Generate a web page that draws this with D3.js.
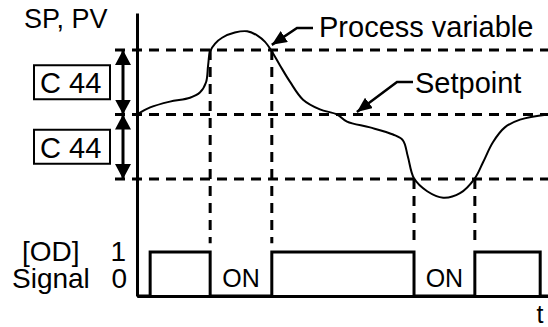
<!DOCTYPE html>
<html>
<head>
<meta charset="utf-8">
<script src="https://cdn.jsdelivr.net/npm/d3@7"></script>
<style>
  body { margin: 0; background: #fff; }
  svg { display: block; font-family: 'Liberation Sans', Arial, sans-serif; }
</style>
</head>
<body>
<div id="chart"></div>
<script>
// process variable, time in % of the plotted span, value in units of C44 band around setpoint
const pvTime = [0, 3.2, 8.0, 12.9, 15.3, 16.8, 17.3, 17.8, 19.0, 20.7, 23.8, 26.8, 29.4, 31.1, 32.6,
  34.8, 37.2, 40.4, 44.5, 48.7, 51.1, 56.7, 62.3, 64.7, 65.9, 67.4, 70.6, 74.5, 78.6, 82.2,
  84.2, 86.6, 89.5, 93.2, 100];
const pvValue = [0, 0.11, 0.2, 0.26, 0.34, 0.5, 0.76, 0.98, 1.1, 1.19, 1.27, 1.29, 1.22, 1.13, 1.0,
  0.76, 0.51, 0.23, 0.08, 0, -0.11, -0.2, -0.31, -0.4, -0.65, -0.99, -1.19, -1.29, -1.22, -0.99,
  -0.74, -0.43, -0.2, -0.08, 0];

// [OD] output signal (step)
const signalTime = [0, 3.2, 17.8, 32.8, 67.4, 82.2, 98.1, 100];
const signalLevel = [0, 1, 0, 1, 0, 1, 0, 0];
const switchTimes = [17.8, 32.8, 67.4, 82.2];
const switchFrom = [1, 1, -1, -1];
const onLabels = ['ON', 'ON'];
const onCenters = [25.3, 74.8];
const bandLevels = [1, 0, -1];

const W = 548, H = 327;
const margin = { top: 13, right: 0, bottom: 31, left: 137 };

const x = d3.scaleLinear().domain([0, 100]).range([margin.left, W - margin.right]);
const y = d3.scaleLinear().domain([-1, 1]).range([179, 50]);
const sy = d3.scaleLinear().domain([0, 1]).range([296, 252]);

const svg = d3.select('#chart').append('svg')
  .attr('width', W)
  .attr('height', H);

const defs = svg.append('defs');
function arrowMarker(id, len, wid) {
  defs.append('marker')
    .attr('id', id)
    .attr('viewBox', `0 ${-wid / 2} ${len} ${wid}`)
    .attr('refX', len)
    .attr('refY', 0)
    .attr('markerUnits', 'userSpaceOnUse')
    .attr('markerWidth', len)
    .attr('markerHeight', wid)
    .attr('orient', 'auto-start-reverse')
    .append('path')
    .attr('d', `M0,${-wid / 2}L${len},0L0,${wid / 2}Z`)
    .attr('fill', '#000');
}
arrowMarker('dbl', 15, 16);
arrowMarker('call', 15, 13);

// band lines (setpoint and +/- C44)
svg.append('g')
  .selectAll('line')
  .data(bandLevels)
  .join('line')
  .attr('x1', 115)
  .attr('x2', W)
  .attr('y1', (d) => y(d))
  .attr('y2', (d) => y(d))
  .attr('stroke', '#000')
  .attr('stroke-width', 3)
  .attr('stroke-dasharray', '10,7');

// vertical switching guides
svg.append('g')
  .selectAll('line')
  .data(switchTimes)
  .join('line')
  .attr('x1', (d) => x(d))
  .attr('x2', (d) => x(d))
  .attr('y1', (d, i) => y(switchFrom[i]))
  .attr('y2', sy(1.2))
  .attr('stroke', '#000')
  .attr('stroke-width', 3)
  .attr('stroke-dasharray', '10,7');

// axes (plain lines, no ticks)
svg.append('g')
  .attr('transform', `translate(${margin.left},0)`)
  .call(d3.axisLeft(d3.scaleLinear().range([margin.top, H - margin.bottom])).tickValues([]).tickSizeOuter(0))
  .select('.domain').attr('stroke-width', 3);
svg.append('g')
  .attr('transform', `translate(0,${sy(0)})`)
  .call(d3.axisBottom(x).tickValues([]).tickSizeOuter(0))
  .select('.domain').attr('stroke-width', 3);

// PV curve
const pvData = pvTime.map((t, i) => [t, pvValue[i]]);
svg.append('path')
  .datum(pvData)
  .attr('fill', 'none')
  .attr('stroke', '#000')
  .attr('stroke-width', 2)
  .attr('d', d3.line().x((d) => x(d[0])).y((d) => y(d[1])).curve(d3.curveCatmullRom));

// signal
const sigData = signalTime.map((t, i) => [t, signalLevel[i]]);
svg.append('path')
  .datum(sigData)
  .attr('fill', 'none')
  .attr('stroke', '#000')
  .attr('stroke-width', 3)
  .attr('d', d3.line().x((d) => x(d[0])).y((d) => sy(d[1])).curve(d3.curveStepAfter));

svg.append('g')
  .selectAll('text')
  .data(onLabels)
  .join('text')
  .attr('x', (d, i) => x(onCenters[i]))
  .attr('y', 287)
  .attr('text-anchor', 'middle')
  .style('font-size', '25px')
  .text((d) => d);

// C44 double arrows
[[1, 0], [0, -1]].forEach(([a, b]) => {
  svg.append('line')
    .attr('x1', 123).attr('x2', 123)
    .attr('y1', y(a)).attr('y2', y(b))
    .attr('stroke', '#000')
    .attr('stroke-width', 3)
    .attr('marker-start', 'url(#dbl)')
    .attr('marker-end', 'url(#dbl)');
});

[0.5, -0.5].forEach((v) => {
  const cy = y(v);
  svg.append('rect')
    .attr('x', 34).attr('y', cy - 17)
    .attr('width', 76).attr('height', 34)
    .attr('fill', 'none')
    .attr('stroke', '#000')
    .attr('stroke-width', 2);
  svg.append('text')
    .attr('x', 40).attr('y', cy + 11)
    .style('font-size', '29px')
    .text('C 44');
});

// callouts
function callout(tip, elbow, end, label, tx, ty) {
  svg.append('path')
    .attr('d', `M${end[0]},${end[1]}L${elbow[0]},${elbow[1]}L${tip[0]},${tip[1]}`)
    .attr('fill', 'none')
    .attr('stroke', '#000')
    .attr('stroke-width', 2.5)
    .attr('marker-end', 'url(#call)');
  svg.append('text')
    .attr('x', tx).attr('y', ty)
    .style('font-size', '29px')
    .text(label);
}
callout([x(32.8), y(1.08)], [297, 28], [313, 28], 'Process variable', 319, 37);
callout([x(53.5), y(0.04)], [397, 82], [413, 82], 'Setpoint', 415, 93);

// labels
const labels = [
  { t: 'SP, PV', x: 24, y: 28, a: 'start', s: 27 },
  { t: '[OD]', x: 22, y: 261, a: 'start', s: 28 },
  { t: '1', x: 126, y: 261, a: 'end', s: 28 },
  { t: 'Signal', x: 12, y: 288, a: 'start', s: 28 },
  { t: '0', x: 127, y: 288, a: 'end', s: 28 },
  { t: 't', x: 540, y: 323, a: 'middle', s: 25 },
];
svg.append('g')
  .selectAll('text')
  .data(labels)
  .join('text')
  .attr('x', (d) => d.x)
  .attr('y', (d) => d.y)
  .attr('text-anchor', (d) => d.a)
  .style('font-size', (d) => `${d.s}px`)
  .text((d) => d.t);
</script>
</body>
</html>
